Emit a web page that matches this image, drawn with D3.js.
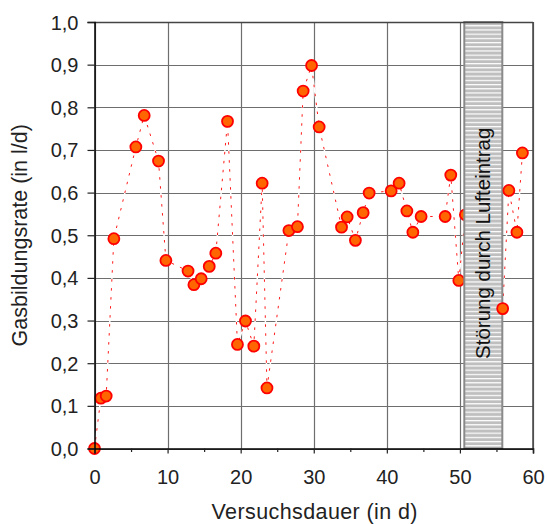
<!DOCTYPE html>
<html><head><meta charset="utf-8">
<script src="https://cdn.jsdelivr.net/npm/d3@7"></script>
<style>
html,body{margin:0;padding:0;background:#fff;}
svg{display:block;font-family:Arial,"Liberation Sans",sans-serif;}
</style></head>
<body>
<svg id="chart" width="547" height="524"></svg>
<script>
const days  = [0, 0.87, 1.6, 2.65, 5.66, 6.8, 8.76, 9.77, 12.8, 13.6, 14.6, 15.7, 16.6, 18.2, 19.56, 20.66, 21.8, 22.94, 23.6, 26.6, 27.77, 28.55, 29.7, 30.74, 33.8, 34.57, 35.7, 36.76, 37.58, 40.59, 41.68, 42.74, 43.56, 44.69, 47.98, 48.75, 49.85, 50.75, 55.85, 56.7, 57.8, 58.55];
const rates = [0, 0.118, 0.123, 0.492, 0.707, 0.781, 0.674, 0.441, 0.416, 0.384, 0.398, 0.427, 0.458, 0.767, 0.244, 0.299, 0.240, 0.622, 0.142, 0.511, 0.520, 0.838, 0.898, 0.754, 0.519, 0.543, 0.488, 0.553, 0.599, 0.604, 0.622, 0.557, 0.507, 0.544, 0.544, 0.641, 0.394, 0.548, 0.328, 0.605, 0.507, 0.693];
const xTicks = [0, 10, 20, 30, 40, 50, 60];
const xMinorTicks = [5, 15, 25, 35, 45, 55];
const yTicks = [0, 0.1, 0.2, 0.3, 0.4, 0.5, 0.6, 0.7, 0.8, 0.9, 1.0];
const disturbance = [50.6, 55.8];
const disturbanceLabel = "Störung durch Lufteintrag";
const xTitle = "Versuchsdauer (in d)";
const yTitle = "Gasbildungsrate (in l/d)";

const W = 547, H = 524;
const m = {left: 94.5, right: 14, top: 22, bottom: 75.5};
const svg = d3.select("#chart");
const x = d3.scaleLinear().domain([0, 60]).range([m.left, W - m.right]);
const y = d3.scaleLinear().domain([0, 1]).range([H - m.bottom, m.top]);
const fmt = d => d3.format(".1f")(d).replace(".", ",");

const defs = svg.append("defs");
const pat = defs.append("pattern").attr("id", "stripes")
  .attr("patternUnits", "userSpaceOnUse").attr("width", 10).attr("height", 4.2);
pat.append("rect").attr("width", 10).attr("height", 4.2).attr("fill", "#bfbfbf");
pat.append("rect").attr("y", 0).attr("width", 10).attr("height", 1.2).attr("fill", "#ffffff");

// grid
const grid = svg.append("g");
grid.selectAll("line.h").data(yTicks).join("line")
  .attr("x1", x(0)).attr("x2", x(60))
  .attr("y1", d => Math.round(y(d)) + 0.5).attr("y2", d => Math.round(y(d)) + 0.5)
  .attr("stroke", "#6e6e6e").attr("stroke-width", 1.2);
grid.selectAll("line.v").data(xTicks).join("line")
  .attr("y1", y(0)).attr("y2", y(1))
  .attr("x1", d => Math.round(x(d)) + 0.5).attr("x2", d => Math.round(x(d)) + 0.5)
  .attr("stroke", "#6e6e6e").attr("stroke-width", 1.2);

// connecting line
const pts = days.map((d, i) => [d, rates[i]]);
const lineGen = d3.line().x(d => x(d[0])).y(d => y(d[1]));
svg.append("path").datum(pts).attr("d", lineGen)
  .attr("fill", "none").attr("stroke", "#ffffff").attr("stroke-width", 1.5);
svg.append("path").datum(pts).attr("d", lineGen)
  .attr("fill", "none").attr("stroke", "#ff1a1a").attr("stroke-width", 1)
  .attr("stroke-dasharray", "2.5,6.5");

function drawPoints(data) {
  svg.append("g").selectAll("circle").data(data).join("circle")
    .attr("cx", d => x(d[0])).attr("cy", d => y(d[1])).attr("r", 5.5)
    .attr("fill", "#ff6600").attr("stroke", "#ff0000").attr("stroke-width", 1.8);
}
drawPoints(pts.filter(d => d[0] < disturbance[1]));

// disturbance band
svg.append("rect")
  .attr("x", x(disturbance[0])).attr("width", x(disturbance[1]) - x(disturbance[0]))
  .attr("y", y(1)).attr("height", y(0) - y(1))
  .attr("fill", "url(#stripes)").attr("stroke", "#8a8a8a").attr("stroke-width", 2);
const bandCx = (x(disturbance[0]) + x(disturbance[1])) / 2;
svg.append("text")
  .attr("transform", `translate(${bandCx + 7},${y(0.5) + 8}) rotate(-90)`)
  .attr("text-anchor", "middle").attr("font-size", 20.5).attr("fill", "#111")
  .text(disturbanceLabel);

drawPoints(pts.filter(d => d[0] >= disturbance[1]));

// axes
const ax = svg.append("g");
ax.append("line").attr("x1", x(0)).attr("x2", x(60)).attr("y1", y(1) + 0.5).attr("y2", y(1) + 0.5)
  .attr("stroke", "#444").attr("stroke-width", 1.5);
ax.append("line").attr("x1", x(60)).attr("x2", x(60)).attr("y1", y(0)).attr("y2", y(1))
  .attr("stroke", "#444").attr("stroke-width", 1.5);

const xAxis = svg.append("g").attr("transform", `translate(0,${y(0)})`)
  .call(d3.axisBottom(x).tickValues(xTicks).tickSize(5).tickPadding(16).tickFormat(d3.format("d")));
svg.append("g").attr("transform", `translate(0,${y(0)})`)
  .call(d3.axisBottom(x).tickValues(xMinorTicks).tickSize(3.5).tickFormat(""))
  .call(g => g.select(".domain").remove());
const yAxis = svg.append("g").attr("transform", `translate(${x(0)},0)`)
  .call(d3.axisLeft(y).tickValues(yTicks).tickSize(7).tickPadding(9).tickFormat(fmt));
svg.selectAll(".domain").attr("stroke", "#000").attr("stroke-width", 1.5);
svg.selectAll(".tick line").attr("stroke", "#222").attr("stroke-width", 1.2);
svg.selectAll(".tick text").attr("font-size", 20).attr("fill", "#222")
  .attr("font-family", "Arial, 'Liberation Sans', sans-serif");
yAxis.selectAll(".tick text").attr("dy", "0.35em");

svg.append("text").attr("x", (x(0) + x(60)) / 2 + 1).attr("y", 519)
  .attr("text-anchor", "middle").attr("font-size", 21.5).attr("fill", "#222")
  .attr("letter-spacing", 0.4).text(xTitle);
svg.append("text").attr("transform", `translate(27,${(y(0) + y(1)) / 2}) rotate(-90)`)
  .attr("text-anchor", "middle").attr("font-size", 21.5).attr("fill", "#222")
  .text(yTitle);
</script>
</body></html>
